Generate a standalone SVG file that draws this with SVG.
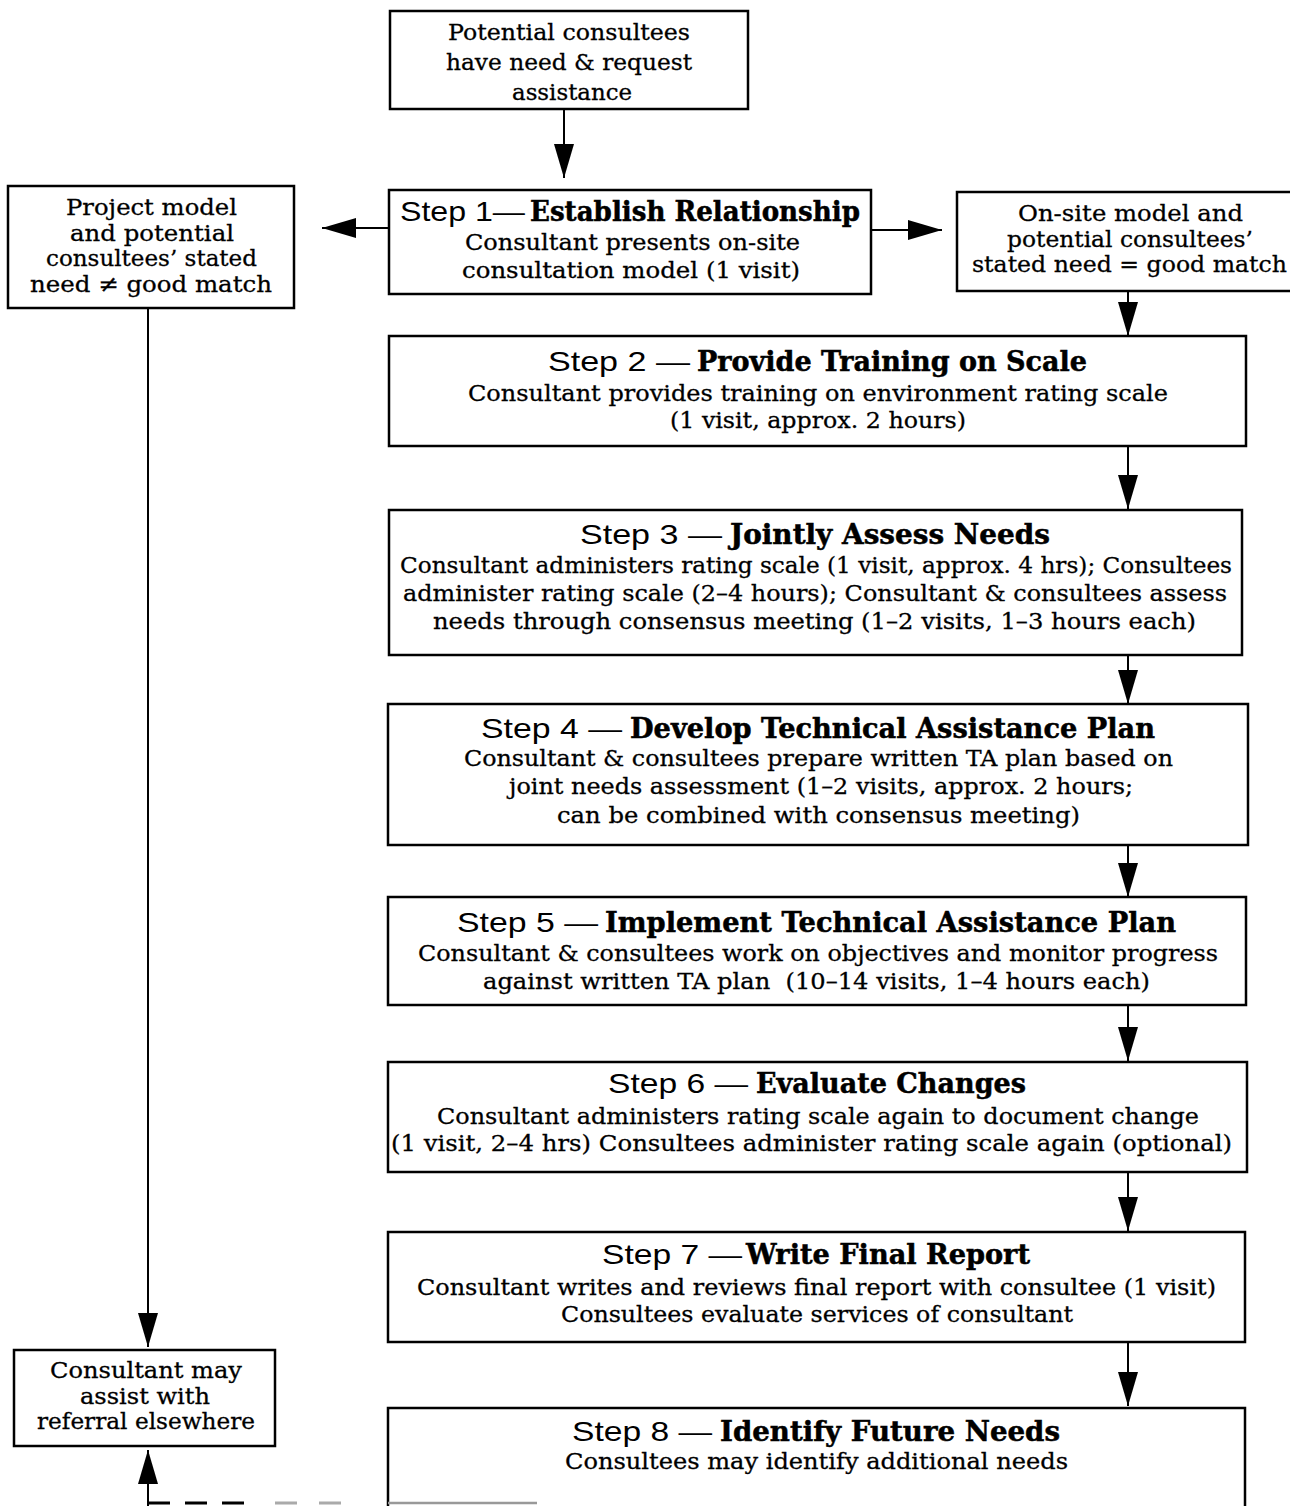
<svg xmlns="http://www.w3.org/2000/svg" width="1290" height="1506" viewBox="0 0 1290 1506">
<style>
.box{fill:#fff;stroke:#000;stroke-width:2.5}
.t{font-family:"DejaVu Serif","Liberation Serif",serif;font-size:23px;fill:#000;stroke:#000;stroke-width:0.3}
.s{font-family:"Liberation Sans","DejaVu Sans",sans-serif;font-size:28px;fill:#000}
.b{font-family:"DejaVu Serif","Liberation Serif",serif;font-size:27px;font-weight:bold;fill:#000;stroke:#000;stroke-width:0.5}
.c{fill:none;stroke:#000;stroke-width:2}
</style>
<defs>
<marker id="ah" markerUnits="userSpaceOnUse" markerWidth="36" markerHeight="22" refX="34" refY="10" orient="auto">
<path d="M0,0 L34,10 L0,20 z" fill="#000"/>
</marker>
</defs>
<rect width="1290" height="1506" fill="#fff"/>

<g id="connectors">
<line class="c" x1="564" y1="109" x2="564" y2="178" marker-end="url(#ah)"/>
<line class="c" x1="389" y1="228" x2="322" y2="228" marker-end="url(#ah)"/>
<line class="c" x1="871" y1="230" x2="942" y2="230" marker-end="url(#ah)"/>
<line class="c" x1="1128" y1="291" x2="1128" y2="336" marker-end="url(#ah)"/>
<line class="c" x1="1128" y1="446" x2="1128" y2="509" marker-end="url(#ah)"/>
<line class="c" x1="1128" y1="655" x2="1128" y2="704" marker-end="url(#ah)"/>
<line class="c" x1="1128" y1="845" x2="1128" y2="897" marker-end="url(#ah)"/>
<line class="c" x1="1128" y1="1005" x2="1128" y2="1061" marker-end="url(#ah)"/>
<line class="c" x1="1128" y1="1172" x2="1128" y2="1231" marker-end="url(#ah)"/>
<line class="c" x1="1128" y1="1342" x2="1128" y2="1406" marker-end="url(#ah)"/>
<line class="c" x1="148" y1="308" x2="148" y2="1347" marker-end="url(#ah)"/>
<line class="c" x1="148" y1="1506" x2="148" y2="1450" marker-end="url(#ah)"/>
<line x1="148" y1="1503" x2="252" y2="1503" stroke="#000" stroke-width="3" stroke-dasharray="22,15"/>
<line x1="275" y1="1503" x2="345" y2="1503" stroke="#aaa" stroke-width="3" stroke-dasharray="22,22"/>
</g>

<g id="n0">
<rect class="box" x="390" y="11" width="358" height="98"/>
<text class="t" x="448" y="40" textLength="242" lengthAdjust="spacingAndGlyphs">Potential consultees</text>
<text class="t" x="446" y="70" textLength="246" lengthAdjust="spacingAndGlyphs">have need &amp; request</text>
<text class="t" x="512" y="100" textLength="120" lengthAdjust="spacingAndGlyphs">assistance</text>
</g>

<g id="step1">
<rect class="box" x="389" y="190" width="482" height="104"/>
<text class="s" x="400" y="221" textLength="125" lengthAdjust="spacingAndGlyphs">Step 1—</text>
<text class="b" x="530" y="221" textLength="330" lengthAdjust="spacingAndGlyphs">Establish Relationship</text>
<text class="t" x="465" y="250" textLength="335" lengthAdjust="spacingAndGlyphs">Consultant presents on-site</text>
<text class="t" x="462" y="278" textLength="338" lengthAdjust="spacingAndGlyphs">consultation model (1 visit)</text>
</g>

<g id="nomatch">
<rect class="box" x="8" y="186" width="286" height="122"/>
<text class="t" x="66" y="215" textLength="171" lengthAdjust="spacingAndGlyphs">Project model</text>
<text class="t" x="70" y="241" textLength="164" lengthAdjust="spacingAndGlyphs">and potential</text>
<text class="t" x="46" y="266" textLength="211" lengthAdjust="spacingAndGlyphs">consultees’ stated</text>
<text class="t" x="30" y="292" textLength="242" lengthAdjust="spacingAndGlyphs">need ≠ good match</text>
</g>

<g id="match">
<rect class="box" x="957" y="192" width="340" height="99"/>
<text class="t" x="1018" y="221" textLength="225" lengthAdjust="spacingAndGlyphs">On-site model and</text>
<text class="t" x="1007" y="247" textLength="246" lengthAdjust="spacingAndGlyphs">potential consultees’</text>
<text class="t" x="972" y="272" textLength="315" lengthAdjust="spacingAndGlyphs">stated need = good match</text>
</g>

<g id="step2">
<rect class="box" x="389" y="336" width="857" height="110"/>
<text class="s" x="548" y="371" textLength="142" lengthAdjust="spacingAndGlyphs">Step 2 —</text>
<text class="b" x="697" y="371" textLength="390" lengthAdjust="spacingAndGlyphs">Provide Training on Scale</text>
<text class="t" x="468" y="401" textLength="700" lengthAdjust="spacingAndGlyphs">Consultant provides training on environment rating scale</text>
<text class="t" x="670" y="428" textLength="296" lengthAdjust="spacingAndGlyphs">(1 visit, approx. 2 hours)</text>
</g>

<g id="step3">
<rect class="box" x="389" y="510" width="853" height="145"/>
<text class="s" x="580" y="544" textLength="142" lengthAdjust="spacingAndGlyphs">Step 3 —</text>
<text class="b" x="730" y="544" textLength="320" lengthAdjust="spacingAndGlyphs">Jointly Assess Needs</text>
<text class="t" x="400" y="573" textLength="832" lengthAdjust="spacingAndGlyphs">Consultant administers rating scale (1 visit, approx. 4 hrs); Consultees</text>
<text class="t" x="403" y="601" textLength="824" lengthAdjust="spacingAndGlyphs">administer rating scale (2–4 hours); Consultant &amp; consultees assess</text>
<text class="t" x="433" y="629" textLength="763" lengthAdjust="spacingAndGlyphs">needs through consensus meeting (1–2 visits, 1–3 hours each)</text>
</g>

<g id="step4">
<rect class="box" x="388" y="704" width="860" height="141"/>
<text class="s" x="481" y="738" textLength="141" lengthAdjust="spacingAndGlyphs">Step 4 —</text>
<text class="b" x="630" y="738" textLength="525" lengthAdjust="spacingAndGlyphs">Develop Technical Assistance Plan</text>
<text class="t" x="464" y="766" textLength="709" lengthAdjust="spacingAndGlyphs">Consultant &amp; consultees prepare written TA plan based on</text>
<text class="t" x="509" y="794" textLength="624" lengthAdjust="spacingAndGlyphs">joint needs assessment (1–2 visits, approx. 2 hours;</text>
<text class="t" x="557" y="823" textLength="523" lengthAdjust="spacingAndGlyphs">can be combined with consensus meeting)</text>
</g>

<g id="step5">
<rect class="box" x="388" y="897" width="858" height="108"/>
<text class="s" x="457" y="932" textLength="141" lengthAdjust="spacingAndGlyphs">Step 5 —</text>
<text class="b" x="605" y="932" textLength="571" lengthAdjust="spacingAndGlyphs">Implement Technical Assistance Plan</text>
<text class="t" x="418" y="961" textLength="800" lengthAdjust="spacingAndGlyphs">Consultant &amp; consultees work on objectives and monitor progress</text>
<text class="t" x="483" y="989" textLength="667" lengthAdjust="spacingAndGlyphs" xml:space="preserve">against written TA plan  (10–14 visits, 1–4 hours each)</text>
</g>

<g id="step6">
<rect class="box" x="388" y="1062" width="859" height="110"/>
<text class="s" x="608" y="1093" textLength="140" lengthAdjust="spacingAndGlyphs">Step 6 —</text>
<text class="b" x="756" y="1093" textLength="270" lengthAdjust="spacingAndGlyphs">Evaluate Changes</text>
<text class="t" x="437" y="1124" textLength="762" lengthAdjust="spacingAndGlyphs">Consultant administers rating scale again to document change</text>
<text class="t" x="391" y="1151" textLength="841" lengthAdjust="spacingAndGlyphs">(1 visit, 2–4 hrs) Consultees administer rating scale again (optional)</text>
</g>

<g id="step7">
<rect class="box" x="388" y="1232" width="857" height="110"/>
<text class="s" x="602" y="1264" textLength="140" lengthAdjust="spacingAndGlyphs">Step 7 —</text>
<text class="b" x="746" y="1264" textLength="284" lengthAdjust="spacingAndGlyphs">Write Final Report</text>
<text class="t" x="417" y="1295" textLength="799" lengthAdjust="spacingAndGlyphs">Consultant writes and reviews final report with consultee (1 visit)</text>
<text class="t" x="561" y="1322" textLength="512" lengthAdjust="spacingAndGlyphs">Consultees evaluate services of consultant</text>
</g>

<g id="step8">
<rect class="box" x="388" y="1408" width="857" height="120"/>
<line x1="388" y1="1503" x2="537" y2="1503" stroke="#999" stroke-width="2.5"/>
<text class="s" x="572" y="1441" textLength="140" lengthAdjust="spacingAndGlyphs">Step 8 —</text>
<text class="b" x="720" y="1441" textLength="340" lengthAdjust="spacingAndGlyphs">Identify Future Needs</text>
<text class="t" x="565" y="1469" textLength="503" lengthAdjust="spacingAndGlyphs">Consultees may identify additional needs</text>
</g>

<g id="referral">
<rect class="box" x="14" y="1350" width="261" height="96"/>
<text class="t" x="50" y="1378" textLength="192" lengthAdjust="spacingAndGlyphs">Consultant may</text>
<text class="t" x="80" y="1404" textLength="130" lengthAdjust="spacingAndGlyphs">assist with</text>
<text class="t" x="37" y="1429" textLength="218" lengthAdjust="spacingAndGlyphs">referral elsewhere</text>
</g>
</svg>
